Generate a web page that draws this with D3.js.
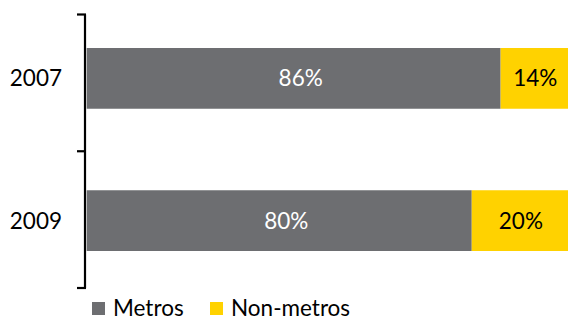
<!DOCTYPE html>
<html>
<head>
<meta charset="utf-8">
<script src="https://cdn.jsdelivr.net/npm/d3@7"></script>
<style>
  html, body { margin: 0; padding: 0; background: #fff; }
  svg { display: block; font-family: Lato, "Open Sans", sans-serif; }
</style>
</head>
<body>
<svg id="chart" width="568" height="321"></svg>
<script>
// Share of total by location type, per year
const years = ["2007", "2009"];
const metros = [86, 80];
const nonMetros = [14, 20];
const seriesNames = ["Metros", "Non-metros"];
const seriesColors = ["#6d6e71", "#ffd200"];
const labelColors = ["#ffffff", "#000000"];

const svg = d3.select("#chart");
const fontSize = 22.5;

// Horizontal scale: share (percent) across the plot width
const x = d3.scaleLinear().domain([0, 100]).range([86.7, 568]);

// Category axis spans the full height with tick marks between categories
const yAxisScale = d3.scaleBand().domain(years).range([14.5, 288]).paddingInner(0);
// Bars sit inside each category band
const yBar = d3.scaleBand().domain(years).range([48, 251]).paddingInner(0.573).paddingOuter(0);

const rows = years.map((yr, i) => {
  const vals = [metros[i], nonMetros[i]];
  let acc = 0;
  return vals.map((v, s) => {
    const seg = { year: yr, series: s, value: v, x0: acc, x1: acc + v };
    acc += v;
    return seg;
  });
}).flat();

// Stacked segments
svg.append("g").selectAll("rect")
  .data(rows)
  .join("rect")
  .attr("x", d => x(d.x0))
  .attr("width", d => x(d.x1) - x(d.x0))
  .attr("y", d => yBar(d.year))
  .attr("height", yBar.bandwidth())
  .attr("fill", d => seriesColors[d.series]);

// Value labels centred in each segment (wide segments nudged slightly right)
svg.append("g").selectAll("text")
  .data(rows)
  .join("text")
  .attr("x", d => (x(d.x0) + x(d.x1)) / 2)
  .attr("dx", d => d.series === 0 ? 7 : 1)
  .attr("y", d => yBar(d.year) + yBar.bandwidth() / 2)
  .attr("dy", "0.36em")
  .attr("text-anchor", "middle")
  .attr("font-size", fontSize)
  .attr("fill", d => labelColors[d.series])
  .text(d => d.value + "%");

// Vertical category axis
const axisX = 85;
const axisG = svg.append("g").attr("stroke", "#000").attr("stroke-width", 2.2);
const [r0, r1] = yAxisScale.range();
axisG.append("line")
  .attr("x1", axisX).attr("x2", axisX)
  .attr("y1", r0).attr("y2", r1);
const boundaries = years.map(yr => yAxisScale(yr)).concat([r1]);
axisG.selectAll("line.tick")
  .data(boundaries)
  .join("line")
  .attr("class", "tick")
  .attr("x1", axisX - 8).attr("x2", axisX + 1)
  .attr("y1", d => d).attr("y2", d => d);

// Category labels
svg.append("g").selectAll("text")
  .data(years)
  .join("text")
  .attr("x", 62)
  .attr("y", d => yBar(d) + yBar.bandwidth() / 2)
  .attr("dy", "0.36em")
  .attr("text-anchor", "end")
  .attr("font-size", fontSize)
  .attr("fill", "#000")
  .text(d => d);

// Legend
const legendX = [92, 210];
const legend = svg.append("g").selectAll("g")
  .data(seriesNames)
  .join("g")
  .attr("transform", (d, i) => `translate(${legendX[i]},302)`);
legend.append("rect")
  .attr("width", 13).attr("height", 13)
  .attr("fill", (d, i) => seriesColors[i]);
legend.append("text")
  .attr("x", 21)
  .attr("y", 14)
  .attr("font-size", fontSize)
  .attr("fill", "#000")
  .text(d => d);
</script>
</body>
</html>
